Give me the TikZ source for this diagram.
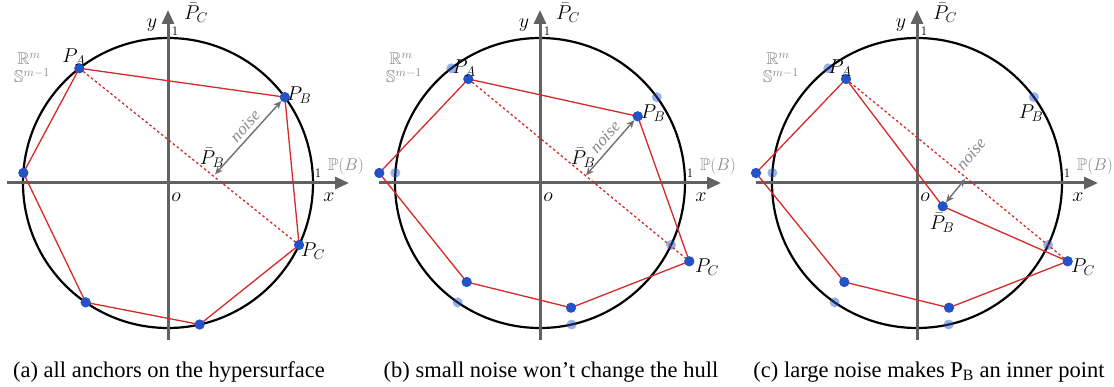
\documentclass[tikz,border=0pt]{standalone}
\usepackage{fix-cm}
\usepackage{amssymb}
\usepackage{fontspec}
\setmainfont{Liberation Serif}
\usetikzlibrary{arrows.meta}
\definecolor{axisgray}{HTML}{626262}
\definecolor{hullred}{HTML}{D42A2A}
\definecolor{dotblue}{HTML}{2353C5}
\definecolor{noisegray}{HTML}{707070}
\definecolor{labelgray}{HTML}{8A8A8A}
\tikzset{
 axisline/.style={draw=axisgray, line width=3pt, -{Triangle[length=14pt,width=12pt]}},
 ring/.style={draw=black, line width=2.2pt},
 hull/.style={draw=hullred, line width=1.3pt},
 hidden/.style={draw=hullred, line width=1.3pt, dash pattern=on 2.5pt off 2.5pt},
 dot/.style={circle, fill=dotblue, inner sep=0pt, minimum size=10pt},
 ghost/.style={circle, fill=dotblue, fill opacity=0.45, inner sep=0pt, minimum size=10pt},
 noisearrow/.style={draw=noisegray, line width=1.4pt, {Stealth[length=8pt,width=7pt]}-{Stealth[length=8pt,width=7pt]}},
 lbl/.style={font=\fontsize{20}{24}\selectfont, inner sep=0pt},
 onelbl/.style={font=\fontsize{13}{15}\selectfont, inner sep=0pt},
 graylbl/.style={text=labelgray, font=\fontsize{17}{20}\selectfont, inner sep=0pt},
 noiselbl/.style={text=labelgray, font=\fontsize{17}{20}\selectfont\itshape, inner sep=0pt},
 caption/.style={font=\fontsize{22.5}{27}\selectfont, inner sep=0pt, anchor=base},
}
\newcommand\panelbase[1]{%
  \draw[ring] (0,0) circle[radius=145];
  \coordinate (#1-xl) at (-161,0);
  \coordinate (#1-xr) at (181,0);
  \coordinate (#1-yb) at (0,-157);
  \coordinate (#1-yt) at (0,173);
  \draw[axisline] (#1-xl) -- (#1-xr);
  \draw[axisline] (#1-yb) -- (#1-yt);
  \node[lbl] (#1-pcbar) at (28,170) {$\bar{P}_C$};
  \node[lbl] (#1-ylab) at (-16,158) {$y$};
  \node[onelbl] (#1-yone) at (7,152) {$1$};
  \node[lbl] (#1-xlab) at (161,-14) {$x$};
  \node[lbl] (#1-olab) at (8,-14) {$o$};
  \node[onelbl] (#1-xone) at (150,10) {$1$};
  \node[graylbl] (#1-pb) at (178,17) {$\mathbb{P}(B)$};
  \node[graylbl] (#1-rm) at (-139,124) {$\mathbb{R}^m$};
  \node[graylbl] (#1-sm) at (-136,107) {$\mathbb{S}^{m-1}$};
}
\begin{document}
\begin{tikzpicture}[x=1pt,y=1pt]
\useasboundingbox[fill=white] (0,0) rectangle (1114,386);
% ---------------- panel (a)
\begin{scope}[shift={(168,203)}]
  \panelbase{a}
  \node[dot] (a-l)  at (176:145) {};
  \node[dot] (a-pa) at (127.7:145) {};
  \node[dot] (a-pb) at (36.3:145) {};
  \node[dot] (a-pc) at (-25.3:145) {};
  \node[dot] (a-bo) at (-77.4:145) {};
  \node[dot] (a-bl) at (-124.6:145) {};
  \draw[hull] (a-l.center) -- (a-pa.center) -- (a-pb.center) -- (a-pc.center) -- (a-bo.center) -- (a-bl.center) -- cycle;
  \draw[hidden] (a-pa.center) -- (a-pc.center);
  \coordinate (a-nb) at (47,8.7);
  \draw[noisearrow] (a-pb) -- (a-nb);
  \foreach \n in {l,pa,pb,pc,bo,bl} \node[dot] at (a-\n) {};
  \node[lbl] (a-lpa) at (-94,126) {$P_A$};
  \node[lbl] (a-lpb) at (131,88) {$P_B$};
  \node[lbl] (a-lpc) at (145,-68) {$P_C$};
  \node[lbl] (a-lnb) at (44,25) {$\bar{P}_B$};
  \node[noiselbl, rotate=48] (a-noise) at (77,57) {noise};
\end{scope}
% ---------------- panel (b)
\begin{scope}[shift={(540,203)}]
  \panelbase{b}
  \node[ghost] (b-gl)  at (176:145) {};
  \node[ghost] (b-gpa) at (127.7:145) {};
  \node[ghost] (b-gpb) at (36.3:145) {};
  \node[ghost] (b-gpc) at (-25.3:145) {};
  \node[ghost] (b-gbo) at (-77.4:145) {};
  \node[ghost] (b-gbl) at (-124.6:145) {};
  \node[dot] (b-l)  at (-160.7,10) {};
  \node[dot] (b-pa) at (-71.7,104) {};
  \node[dot] (b-pb) at (97.7,66.7) {};
  \node[dot] (b-pc) at (149.3,-78.3) {};
  \node[dot] (b-bo) at (31,-124.7) {};
  \node[dot] (b-bl) at (-73.3,-99) {};
  \draw[hull] (b-l.center) -- (b-pa.center) -- (b-pb.center) -- (b-pc.center) -- (b-bo.center) -- (b-bl.center) -- cycle;
  \draw[hidden] (b-pa.center) -- (b-pc.center);
  \coordinate (b-nb) at (46,7.7);
  \draw[noisearrow] (b-pb) -- (b-nb);
  \foreach \n in {l,pa,pb,pc,bo,bl} \node[dot] at (b-\n) {};
  \node[lbl] (b-lpa) at (-76,115) {$P_A$};
  \node[lbl] (b-lpb) at (113,70) {$P_B$};
  \node[lbl] (b-lpc) at (167,-84) {$P_C$};
  \node[lbl] (b-lnb) at (43,25) {$\bar{P}_B$};
  \node[noiselbl, rotate=48] (b-noise) at (65,46) {noise};
\end{scope}
% ---------------- panel (c)
\begin{scope}[shift={(917,203)}]
  \panelbase{c}
  \node[ghost] (c-gl)  at (176:145) {};
  \node[ghost] (c-gpa) at (127.7:145) {};
  \node[ghost] (c-gpb) at (36.3:145) {};
  \node[ghost] (c-gpc) at (-25.3:145) {};
  \node[ghost] (c-gbo) at (-77.4:145) {};
  \node[ghost] (c-gbl) at (-124.6:145) {};
  \node[dot] (c-l)  at (-161,10) {};
  \node[dot] (c-pa) at (-71,104) {};
  \node[dot] (c-nb) at (25.7,-23.3) {};
  \node[dot] (c-pc) at (150.7,-78.3) {};
  \node[dot] (c-bo) at (32,-124.7) {};
  \node[dot] (c-bl) at (-72.7,-99) {};
  \draw[hull] (c-l.center) -- (c-pa.center) -- (c-nb.center) -- (c-pc.center) -- (c-bo.center) -- (c-bl.center) -- cycle;
  \draw[hidden] (c-pa.center) -- (c-pc.center);
  \coordinate (c-ne) at (48,4);
  \draw[noisearrow] (c-ne) -- (c-nb);
  \foreach \n in {l,pa,nb,pc,bo,bl} \node[dot] at (c-\n) {};
  \node[lbl] (c-lpa) at (-77,115) {$P_A$};
  \node[lbl] (c-lpb) at (114,70) {$P_B$};
  \node[lbl] (c-lpc) at (166,-84) {$P_C$};
  \node[lbl] (c-lnb) at (25,-40) {$\bar{P}_B$};
  \node[noiselbl, rotate=50] (c-noise) at (54,29) {noise};
\end{scope}
% ---------------- captions
\node[caption] (capa) at (169,9) {(a) all anchors on the hypersurface};
\node[caption] (capb) at (551,9) {(b) small noise won’t change the hull};
\node[caption] (capc) at (929,9) {(c) large noise makes P\textsubscript{B} an inner point};
\end{tikzpicture}
\end{document}
